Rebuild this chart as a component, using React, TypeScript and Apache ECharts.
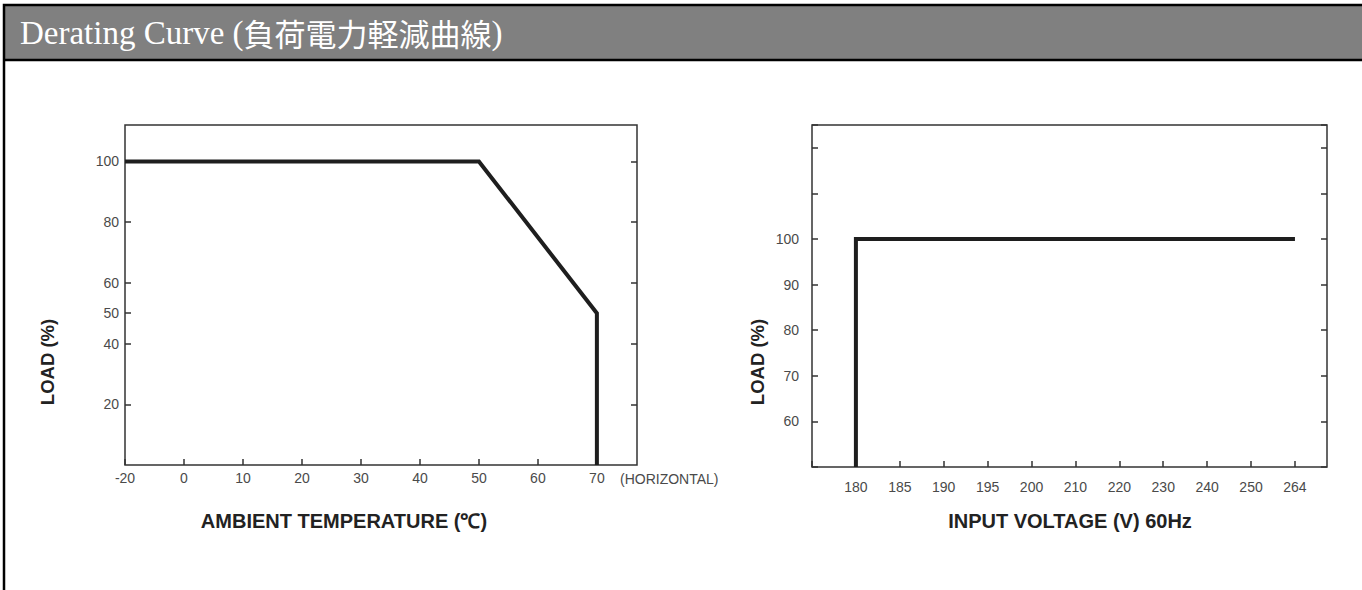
import React, { useEffect, useRef } from 'react';
import * as echarts from 'echarts';

// ---- Title ----
const titleLatin = 'Derating Curve (';
const titleJapanese = '負荷電力軽減曲線';
const titleClose = ')';

// ---- Left chart: load vs ambient temperature ----
const tempTicks = [-20, 0, 10, 20, 30, 40, 50, 60, 70];
const tempPoints = [-20, 50, 70, 70];
const tempLoads = [100, 100, 50, 0];
const loadTicksLeft = [20, 40, 50, 60, 80, 100];
const loadTicksLeftMirror = [20, 40, 60, 80, 100];

// ---- Right chart: load vs input voltage ----
const voltTicks = [180, 185, 190, 195, 200, 210, 220, 230, 240, 250, 264];
const voltPoints = [180, 180, 264];
const voltLoads = [50, 100, 100];
const loadLabelsRight = [60, 70, 80, 90, 100];

const tempAxisName = 'AMBIENT TEMPERATURE (℃)';
const voltAxisName = 'INPUT VOLTAGE (V) 60Hz';
const loadAxisName = 'LOAD (%)';
const orientationNote = '(HORIZONTAL)';

// map a value onto the evenly spaced tick slots of the printed (non-linear) scale
function toSlot(ticks: number[], v: number): number {
  for (let i = 0; i < ticks.length - 1; i++) {
    if (v <= ticks[i + 1]) return i + (v - ticks[i]) / (ticks[i + 1] - ticks[i]);
  }
  return ticks.length - 1;
}

const SANS = "'Liberation Sans', Arial, sans-serif";
const AX = '#333333';
const LINE = '#1e1e1e';
const labelStyle = { fontFamily: SANS, fontSize: 14, color: '#4a4a4a' };

export default function App() {
  const ref = useRef<HTMLDivElement>(null);

  useEffect(() => {
    if (!ref.current) return;
    const chart = echarts.init(ref.current, null, { renderer: 'svg' });

    const tickStyle = { inside: true, length: 6, lineStyle: { color: AX, width: 1.5 } };
    const noLine = { show: false, onZero: false };

    chart.setOption({
      animation: false,
      backgroundColor: '#ffffff',
      title: {
        left: 20,
        top: 16,
        padding: 0,
        text: `{a|${titleLatin}}{b|${titleJapanese}}{a|${titleClose}}`,
        textStyle: {
          fontWeight: 'normal',
          rich: {
            a: { fontFamily: "'Liberation Serif', serif", fontSize: 33, fontWeight: 'normal', color: '#ffffff' },
            b: { fontFamily: "'Noto Sans CJK JP', sans-serif", fontSize: 31, fontWeight: 'normal', color: '#ffffff' },
          },
        },
      },
      grid: [
        { left: 125, top: 125, width: 512, height: 340, show: true, borderColor: AX, borderWidth: 1.5, containLabel: false },
        { left: 812, top: 125, width: 515, height: 342, show: true, borderColor: AX, borderWidth: 1.5, containLabel: false },
      ],
      xAxis: [
        {
          gridIndex: 0,
          type: 'value',
          min: 0,
          max: 8.68,
          interval: 1,
          axisLine: noLine,
          axisTick: tickStyle,
          splitLine: { show: false },
          axisLabel: {
            ...labelStyle,
            margin: 6,
            showMaxLabel: false,
            formatter: (v: number) => {
              const i = Math.round(v);
              return Math.abs(v - i) < 1e-6 && i >= 0 && i < tempTicks.length ? String(tempTicks[i]) : '';
            },
          },
        },
        {
          gridIndex: 1,
          type: 'value',
          min: -1,
          max: 10.73,
          interval: 1,
          axisLine: noLine,
          axisTick: tickStyle,
          splitLine: { show: false },
          axisLabel: {
            ...labelStyle,
            margin: 13,
            showMaxLabel: false,
            formatter: (v: number) => {
              const i = Math.round(v);
              return Math.abs(v - i) < 1e-6 && i >= 0 && i < voltTicks.length ? String(voltTicks[i]) : '';
            },
          },
        },
      ],
      yAxis: [
        {
          gridIndex: 0,
          type: 'value',
          min: 0,
          max: 112,
          position: 'left',
          axisLine: noLine,
          axisTick: { ...tickStyle, customValues: loadTicksLeft },
          axisLabel: { ...labelStyle, margin: 6, customValues: loadTicksLeft },
          splitLine: { show: false },
        },
        {
          gridIndex: 0,
          type: 'value',
          min: 0,
          max: 112,
          position: 'right',
          axisLine: noLine,
          axisTick: { ...tickStyle, customValues: loadTicksLeftMirror },
          axisLabel: { show: false },
          splitLine: { show: false },
        },
        {
          gridIndex: 1,
          type: 'value',
          min: 50,
          max: 125,
          interval: 10,
          position: 'left',
          axisLine: noLine,
          axisTick: tickStyle,
          axisLabel: { ...labelStyle, margin: 13, customValues: loadLabelsRight },
          splitLine: { show: false },
        },
        {
          gridIndex: 1,
          type: 'value',
          min: 50,
          max: 125,
          interval: 10,
          position: 'right',
          axisLine: noLine,
          axisTick: tickStyle,
          axisLabel: { show: false },
          splitLine: { show: false },
        },
      ],
      series: [
        {
          type: 'line',
          name: 'Load vs temperature',
          xAxisIndex: 0,
          yAxisIndex: 0,
          data: tempPoints.map((t, i) => [toSlot(tempTicks, t), tempLoads[i]]),
          symbol: 'none',
          silent: true,
          lineStyle: { color: LINE, width: 4, join: 'miter' },
        },
        {
          type: 'line',
          name: 'Load vs voltage',
          xAxisIndex: 1,
          yAxisIndex: 2,
          data: voltPoints.map((v, i) => [toSlot(voltTicks, v), voltLoads[i]]),
          symbol: 'none',
          silent: true,
          lineStyle: { color: LINE, width: 4, join: 'miter' },
        },
      ],
      graphic: [
        { type: 'rect', z: -10, shape: { x: 4, y: 5, width: 1400, height: 55 }, style: { fill: '#808080' } },
        { type: 'rect', z: -9, shape: { x: 4, y: 5, width: 1400, height: 700 }, style: { fill: 'none', stroke: '#000', lineWidth: 2.5 } },
        { type: 'line', z: -9, shape: { x1: 4, y1: 60, x2: 1362, y2: 60 }, style: { stroke: '#000', lineWidth: 2.5 } },
        {
          type: 'text', x: 344, y: 521,
          style: { text: tempAxisName, fontFamily: SANS, fontWeight: 'bold', fontSize: 20, fill: '#222', align: 'center', verticalAlign: 'middle' },
        },
        {
          type: 'text', x: 1070, y: 521,
          style: { text: voltAxisName, fontFamily: SANS, fontWeight: 'bold', fontSize: 20, fill: '#222', align: 'center', verticalAlign: 'middle' },
        },
        {
          type: 'text', x: 47, y: 362, rotation: Math.PI / 2,
          style: { text: loadAxisName, fontFamily: SANS, fontWeight: 'bold', fontSize: 18.5, fill: '#222', align: 'center', verticalAlign: 'middle' },
        },
        {
          type: 'text', x: 757, y: 362, rotation: Math.PI / 2,
          style: { text: loadAxisName, fontFamily: SANS, fontWeight: 'bold', fontSize: 18.5, fill: '#222', align: 'center', verticalAlign: 'middle' },
        },
        {
          type: 'text', x: 620, y: 479,
          style: { text: orientationNote, fontFamily: SANS, fontSize: 14, fill: '#4a4a4a', align: 'left', verticalAlign: 'middle' },
        },
      ],
    });

    return () => chart.dispose();
  }, []);

  return (
    <div
      ref={ref}
      style={{ position: 'absolute', left: 0, top: 0, width: 1362, height: 590, background: '#fff' }}
    />
  );
}
